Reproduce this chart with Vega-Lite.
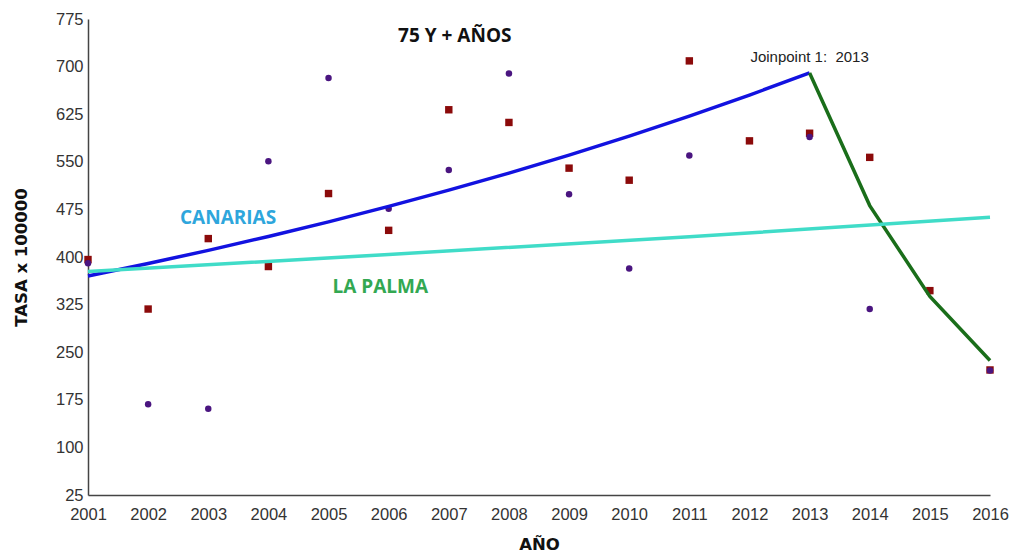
{
  "$schema": "https://vega.github.io/schema/vega-lite/v6.json",
  "width": 902,
  "height": 476,
  "autosize": "none",
  "padding": {"left": 88, "top": 19, "right": 25, "bottom": 61},
  "background": "white",
  "config": {
    "view": {"stroke": null},
    "axis": {"grid": false, "domainColor": "#444444", "domainWidth": 1.5, "ticks": false, "labelFont": "Liberation Sans", "labelFontSize": 16.5, "labelColor": "#333333", "titleFont": "DejaVu Sans", "titleFontWeight": "bold", "titleFontSize": 16.5, "titleColor": "#111111"}
  },
  "datasets": {
    "obs": [
      {"anio": 2001, "serie": "Canarias", "tasa": 396},
      {"anio": 2002, "serie": "Canarias", "tasa": 318},
      {"anio": 2003, "serie": "Canarias", "tasa": 429},
      {"anio": 2004, "serie": "Canarias", "tasa": 385},
      {"anio": 2005, "serie": "Canarias", "tasa": 500},
      {"anio": 2006, "serie": "Canarias", "tasa": 442},
      {"anio": 2007, "serie": "Canarias", "tasa": 632},
      {"anio": 2008, "serie": "Canarias", "tasa": 612},
      {"anio": 2009, "serie": "Canarias", "tasa": 540},
      {"anio": 2010, "serie": "Canarias", "tasa": 521},
      {"anio": 2011, "serie": "Canarias", "tasa": 709},
      {"anio": 2012, "serie": "Canarias", "tasa": 583},
      {"anio": 2013, "serie": "Canarias", "tasa": 595},
      {"anio": 2014, "serie": "Canarias", "tasa": 557},
      {"anio": 2015, "serie": "Canarias", "tasa": 347},
      {"anio": 2016, "serie": "Canarias", "tasa": 222},
      {"anio": 2001, "serie": "La Palma", "tasa": 390},
      {"anio": 2002, "serie": "La Palma", "tasa": 168},
      {"anio": 2003, "serie": "La Palma", "tasa": 161},
      {"anio": 2004, "serie": "La Palma", "tasa": 551},
      {"anio": 2005, "serie": "La Palma", "tasa": 682},
      {"anio": 2006, "serie": "La Palma", "tasa": 476},
      {"anio": 2007, "serie": "La Palma", "tasa": 537},
      {"anio": 2008, "serie": "La Palma", "tasa": 689},
      {"anio": 2009, "serie": "La Palma", "tasa": 499},
      {"anio": 2010, "serie": "La Palma", "tasa": 382},
      {"anio": 2011, "serie": "La Palma", "tasa": 560},
      {"anio": 2013, "serie": "La Palma", "tasa": 589},
      {"anio": 2014, "serie": "La Palma", "tasa": 318},
      {"anio": 2016, "serie": "La Palma", "tasa": 221}
    ],
    "ajuste": [
      {"anio": 2001, "tramo": "Tramo 1", "tasa": 370},
      {"anio": 2002, "tramo": "Tramo 1", "tasa": 389.7},
      {"anio": 2003, "tramo": "Tramo 1", "tasa": 410.5},
      {"anio": 2004, "tramo": "Tramo 1", "tasa": 432.4},
      {"anio": 2005, "tramo": "Tramo 1", "tasa": 455.4},
      {"anio": 2006, "tramo": "Tramo 1", "tasa": 479.7},
      {"anio": 2007, "tramo": "Tramo 1", "tasa": 505.3},
      {"anio": 2008, "tramo": "Tramo 1", "tasa": 532.2},
      {"anio": 2009, "tramo": "Tramo 1", "tasa": 560.6},
      {"anio": 2010, "tramo": "Tramo 1", "tasa": 590.5},
      {"anio": 2011, "tramo": "Tramo 1", "tasa": 621.9},
      {"anio": 2012, "tramo": "Tramo 1", "tasa": 655.1},
      {"anio": 2013, "tramo": "Tramo 1", "tasa": 690},
      {"anio": 2013, "tramo": "Tramo 2", "tasa": 690},
      {"anio": 2014, "tramo": "Tramo 2", "tasa": 481},
      {"anio": 2015, "tramo": "Tramo 2", "tasa": 338},
      {"anio": 2016, "tramo": "Tramo 2", "tasa": 237},
      {"anio": 2001, "tramo": "La Palma", "tasa": 377},
      {"anio": 2006, "tramo": "La Palma", "tasa": 404},
      {"anio": 2011, "tramo": "La Palma", "tasa": 432},
      {"anio": 2016, "tramo": "La Palma", "tasa": 462.5}
    ]
  },
  "encoding": {
    "x": {"field": "anio", "type": "quantitative", "scale": {"domain": [2001, 2016], "nice": false, "zero": false}, "axis": {"title": "AÑO", "values": [2001,2002,2003,2004,2005,2006,2007,2008,2009,2010,2011,2012,2013,2014,2015,2016], "format": "d", "labelPadding": 11, "titlePadding": 14, "labelFlush": false}},
    "y": {"field": "tasa", "type": "quantitative", "scale": {"domain": [25, 775], "nice": false, "zero": false}, "axis": {"title": "TASA x 100000", "values": [25,100,175,250,325,400,475,550,625,700,775], "labelPadding": 5, "titlePadding": 26}}
  },
  "layer": [
    {
      "data": {"name": "obs"},
      "transform": [{"filter": "datum.serie === 'Canarias'"}],
      "mark": {"type": "point", "shape": "square", "filled": true, "size": 55, "opacity": 1, "color": "#8b0a0a"}
    },
    {
      "data": {"name": "obs"},
      "transform": [{"filter": "datum.serie === 'La Palma'"}],
      "mark": {"type": "point", "shape": "circle", "filled": true, "size": 42, "opacity": 1, "color": "#4a1580"}
    },
    {
      "data": {"name": "ajuste"},
      "mark": {"type": "line", "strokeWidth": 3.5},
      "encoding": {
        "detail": {"field": "tramo"},
        "color": {"field": "tramo", "type": "nominal", "scale": {"domain": ["Tramo 1", "Tramo 2", "La Palma"], "range": ["#1212e0", "#1a6e1a", "#40dcc8"]}, "legend": null}
      }
    },
    {
      "data": {"values": [{"anio": 2007.1, "tasa": 748, "texto": "75 Y + AÑOS"}]},
      "mark": {"type": "text", "font": "Open Sans", "fontWeight": "bold", "fontSize": 19, "color": "#111111"},
      "encoding": {"text": {"field": "texto"}}
    },
    {
      "data": {"values": [{"anio": 2003.33, "tasa": 461, "texto": "CANARIAS"}]},
      "mark": {"type": "text", "font": "Open Sans", "fontWeight": "bold", "fontSize": 19, "color": "#2ea6dc"},
      "encoding": {"text": {"field": "texto"}}
    },
    {
      "data": {"values": [{"anio": 2005.86, "tasa": 353, "texto": "LA PALMA"}]},
      "mark": {"type": "text", "font": "Open Sans", "fontWeight": "bold", "fontSize": 19, "color": "#33a852"},
      "encoding": {"text": {"field": "texto"}}
    },
    {
      "data": {"values": [{"anio": 2013, "tasa": 715, "texto": "Joinpoint 1:\u00a0 2013"}]},
      "mark": {"type": "text", "font": "Liberation Sans", "fontSize": 15, "color": "#222222"},
      "encoding": {"text": {"field": "texto"}}
    }
  ]
}
